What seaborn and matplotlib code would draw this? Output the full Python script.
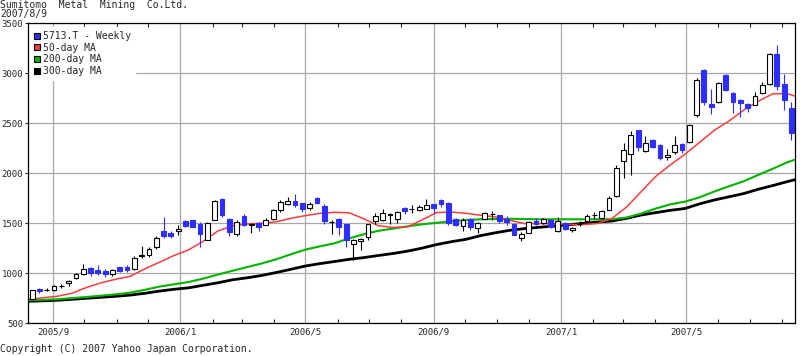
import matplotlib
matplotlib.use("Agg")
import matplotlib.pyplot as plt
import matplotlib.dates as mdates
from matplotlib.lines import Line2D
import seaborn as sns
import pandas as pd

# --- data (5713.T weekly, yen) ---
first_week = "2005-08-12"
opens = [745, 840, 835, 837, 870, 905, 955, 997, 1053, 1030, 1023, 992, 1063, 1060, 1040,
         1175, 1180, 1263, 1420, 1403, 1423, 1520, 1530, 1497, 1337, 1537, 1747, 1547, 1397,
         1570, 1488, 1503, 1487, 1547, 1637, 1697, 1720, 1703, 1653, 1753, 1673, 1512, 1547,
         1490, 1297, 1323, 1363, 1523, 1537, 1587, 1547, 1657, 1645, 1637, 1647, 1690, 1737,
         1707, 1547, 1470, 1547, 1457, 1547, 1590, 1580, 1547, 1497, 1357, 1407, 1520, 1507,
         1537, 1423, 1507, 1437, 1495, 1523, 1585, 1557, 1637, 1773, 2123, 2197, 2430, 2223,
         2337, 2280, 2163, 2213, 2297, 2313, 2580, 3030, 2697, 2713, 2980, 2807, 2737, 2697,
         2687, 2807, 2897, 3190, 2890, 2657]
highs = [832, 853, 850, 887, 897, 937, 1003, 1097, 1063, 1080, 1040, 1040, 1066, 1085, 1170,
         1270, 1263, 1370, 1563, 1423, 1480, 1530, 1533, 1513, 1513, 1730, 1750, 1550, 1537,
         1590, 1503, 1510, 1557, 1647, 1730, 1763, 1790, 1706, 1713, 1763, 1690, 1530, 1550,
         1493, 1347, 1357, 1497, 1603, 1647, 1603, 1620, 1660, 1680, 1680, 1747, 1693, 1740,
         1710, 1557, 1557, 1557, 1513, 1613, 1620, 1587, 1570, 1500, 1413, 1523, 1557, 1550,
         1540, 1563, 1513, 1463, 1520, 1597, 1613, 1637, 1770, 2080, 2307, 2420, 2437, 2370,
         2347, 2297, 2247, 2370, 2303, 2490, 2957, 3047, 2847, 2913, 2997, 2810, 2740, 2703,
         2813, 2913, 3203, 3280, 2997, 2713]
lows = [740, 805, 825, 823, 850, 877, 947, 987, 973, 987, 963, 970, 1013, 1013, 1037,
        1157, 1163, 1247, 1357, 1353, 1380, 1463, 1460, 1263, 1330, 1530, 1563, 1370, 1370,
        1470, 1403, 1423, 1480, 1537, 1613, 1680, 1663, 1613, 1637, 1697, 1497, 1397, 1380,
        1263, 1137, 1230, 1337, 1497, 1523, 1490, 1503, 1597, 1603, 1623, 1640, 1603, 1663,
        1480, 1470, 1423, 1430, 1400, 1540, 1537, 1503, 1487, 1380, 1323, 1403, 1480, 1497,
        1457, 1413, 1430, 1413, 1470, 1513, 1547, 1547, 1630, 1763, 1953, 1980, 2223, 2213,
        2253, 2137, 2130, 2197, 2203, 2303, 2563, 2680, 2597, 2707, 2823, 2607, 2563, 2613,
        2680, 2797, 2880, 2830, 2637, 2337]
closes = [830, 823, 838, 870, 874, 922, 990, 1047, 1000, 1007, 990, 1035, 1023, 1030, 1153,
          1185, 1247, 1357, 1370, 1377, 1447, 1470, 1463, 1397, 1507, 1720, 1580, 1413, 1513,
          1487, 1492, 1465, 1530, 1637, 1713, 1720, 1680, 1647, 1690, 1703, 1523, 1515, 1463,
          1330, 1330, 1347, 1490, 1570, 1607, 1590, 1613, 1620, 1648, 1663, 1680, 1657, 1690,
          1503, 1487, 1537, 1463, 1507, 1603, 1592, 1523, 1513, 1387, 1390, 1513, 1497, 1547,
          1463, 1520, 1447, 1457, 1497, 1573, 1587, 1623, 1757, 2057, 2237, 2387, 2263, 2307,
          2263, 2153, 2187, 2280, 2237, 2480, 2930, 2713, 2663, 2903, 2830, 2713, 2703, 2657,
          2770, 2887, 3190, 2873, 2737, 2403]

# moving averages, sampled every two weeks from the left edge
ma_first = "2005-08-08"
ma_last = "2007-08-13"
ma50 = [737, 755, 770, 800, 858, 905, 940, 970, 1045, 1110, 1178, 1235, 1320, 1423, 1475,
        1493, 1500, 1515, 1550, 1577, 1600, 1610, 1605, 1545, 1475, 1458, 1465, 1535, 1608,
        1612, 1600, 1580, 1565, 1530, 1497, 1497, 1497, 1490, 1487, 1498, 1550, 1663, 1818,
        1970, 2085, 2192, 2310, 2430, 2522, 2630, 2720, 2795, 2797, 2773]
ma200 = [730, 735, 740, 752, 763, 776, 790, 806, 835, 867, 890, 913, 947, 987, 1025,
         1062, 1098, 1140, 1190, 1237, 1270, 1300, 1350, 1390, 1425, 1447, 1470, 1490, 1505,
         1520, 1533, 1540, 1543, 1545, 1543, 1540, 1540, 1540, 1540, 1540, 1541, 1558, 1598,
         1648, 1690, 1717, 1760, 1818, 1870, 1920, 1983, 2045, 2110, 2135]
ma300 = [720, 725, 730, 740, 750, 760, 770, 782, 800, 822, 840, 855, 880, 905, 935,
         955, 978, 1008, 1040, 1073, 1097, 1118, 1140, 1157, 1178, 1198, 1222, 1252, 1288,
         1316, 1340, 1377, 1405, 1430, 1447, 1460, 1473, 1485, 1500, 1512, 1523, 1550, 1583,
         1607, 1630, 1648, 1695, 1733, 1765, 1797, 1840, 1877, 1917, 1935]

series_labels = ["5713.T - Weekly", "50-day MA", "200-day MA", "300-day MA"]
xtick_labels = ["2005/9", "2006/1", "2006/5", "2006/9", "2007/1", "2007/5"]
xtick_dates = ["2005-09-01", "2006-01-01", "2006-05-01", "2006-09-01", "2007-01-01", "2007-05-01"]
yticks = [500, 1000, 1500, 2000, 2500, 3000, 3500]

BLUE = "#2e2eff"
RED = "#ff3b3b"
GREEN = "#00b400"
GRID = "#a8a8a8"

sns.set_style("white")
plt.rcParams["font.family"] = ["DejaVu Sans Mono"]

week_dates = pd.date_range(first_week, periods=len(opens), freq="7D")
ma_dates = list(pd.date_range(ma_first, periods=len(ma50) - 1, freq="14D")) + [pd.Timestamp(ma_last)]
df = pd.DataFrame({"date": ma_dates, "ma50": ma50, "ma200": ma200, "ma300": ma300})

fig = plt.figure(figsize=(8, 3.56), dpi=100)
ax = fig.add_axes([28 / 800, 1 - 323.3 / 356, 767 / 800, 300 / 356])

# moving averages
sns.lineplot(data=df, x="date", y="ma300", color="black", lw=2.0, ax=ax, zorder=3)
sns.lineplot(data=df, x="date", y="ma200", color=GREEN, lw=1.5, ax=ax, zorder=3)
sns.lineplot(data=df, x="date", y="ma50", color=RED, lw=1.1, ax=ax, zorder=3)

# candles
xs = mdates.date2num(week_dates)
for x, o, h, l, c in zip(xs, opens, highs, lows, closes):
    up = c >= o
    col = "black" if up else BLUE
    ax.vlines(x, l, h, color=col, lw=0.8, zorder=4)
    ax.bar(x, abs(c - o), bottom=min(o, c), width=4.6,
           facecolor="white" if up else BLUE, edgecolor=col, lw=0.8, zorder=5)

ax.set_xlim(mdates.date2num(pd.Timestamp("2005-08-08")), mdates.date2num(pd.Timestamp("2007-08-13 09:00")))
ax.set_ylim(500, 3500)
ax.set_xlabel("")
ax.set_ylabel("")

ax.set_yticks(yticks)
ax.set_yticklabels([str(v) for v in yticks], fontsize=6.5)
ax.set_xticks(mdates.date2num(pd.to_datetime(xtick_dates)))
ax.set_xticklabels(xtick_labels, fontsize=6.5)
ax.xaxis.set_minor_locator(mdates.MonthLocator())
ax.tick_params(axis="x", which="major", length=0, pad=3)
ax.tick_params(axis="x", which="minor", direction="in", length=3, top=True, bottom=True, width=0.8)
ax.tick_params(axis="y", which="major", direction="out", length=2, left=True, width=0.8, pad=1.5)
ax.grid(True, which="major", color=GRID, lw=0.9)
for s in ax.spines.values():
    s.set_color("black")
    s.set_linewidth(0.9)
    s.set_zorder(12)

handles = [Line2D([], [], marker="s", ls="none", markersize=5, markerfacecolor=c,
                  markeredgecolor="black", markeredgewidth=0.8)
           for c in [BLUE, RED, GREEN, "black"]]
leg = ax.legend(handles, series_labels, loc="upper left", bbox_to_anchor=(1.5 / 767, 1 - 4 / 300),
                borderaxespad=0, frameon=True, fancybox=False, framealpha=1,
                edgecolor="white", facecolor="white", prop={"size": 7},
                handlelength=0.7, handletextpad=0.3, labelspacing=0.17, borderpad=0.4)
leg.set_zorder(10)

fig.text(0.0, 1.0, "Sumitomo  Metal  Mining  Co.Ltd.", fontsize=7, va="top", ha="left")
fig.text(0.0, 1 - 9 / 356, "2007/8/9", fontsize=7, va="top", ha="left")
fig.text(0.0, 1 - 349 / 356, "Copyright (C) 2007 Yahoo Japan Corporation.", fontsize=7,
         va="center", ha="left")

fig.savefig("out.png", dpi=100)
